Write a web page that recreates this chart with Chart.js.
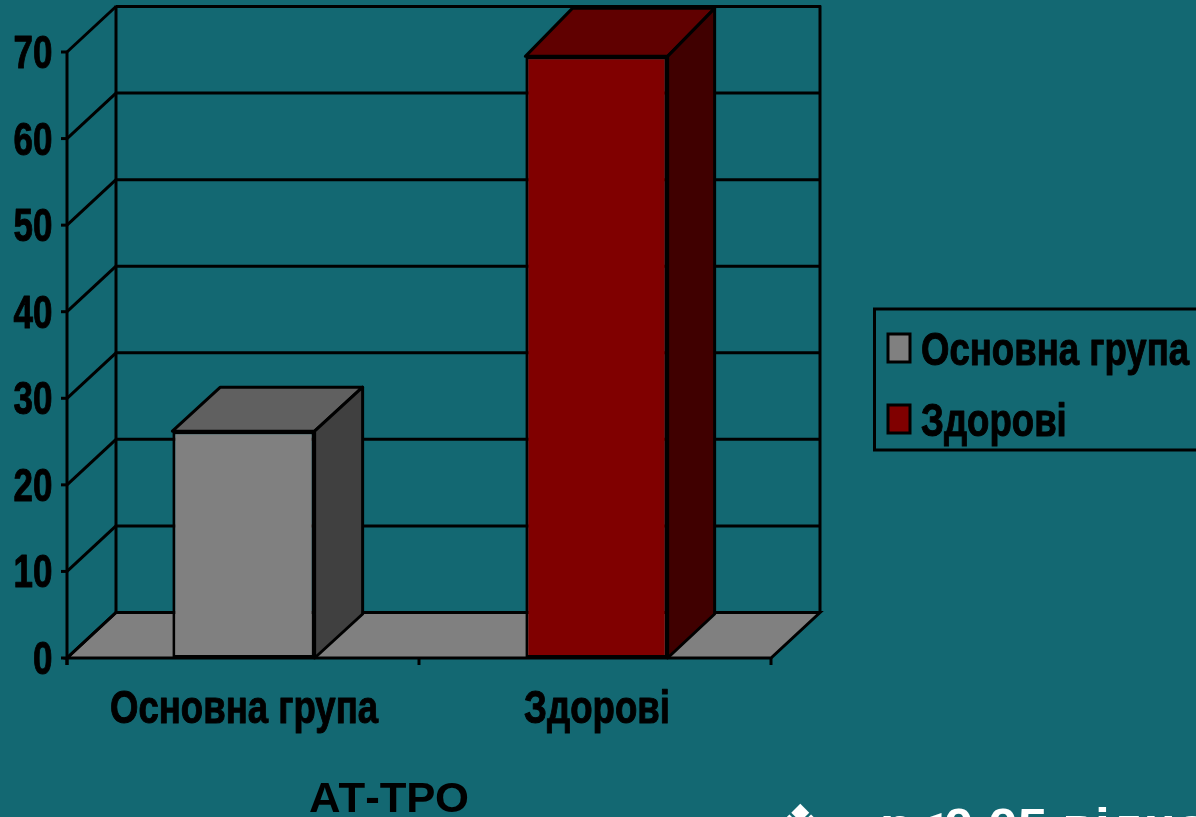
<!DOCTYPE html>
<html><head><meta charset="utf-8">
<style>html,body{margin:0;padding:0;background:#136872;overflow:hidden}canvas{display:block}</style>
<script src="https://cdn.jsdelivr.net/npm/chart.js@4"></script>
</head><body><canvas id="c" width="1196" height="817"></canvas>
<script>
const categories = ["Основна група", "Здорові"];
const values = [26.2, 69.5];
const yTickValues = [0, 10, 20, 30, 40, 50, 60, 70];
const axisTitle = "АТ-ТРО";
const noteText = "р<0,05 відносно";
const noteBullet = "❖";

const frontColors = ["#808080", "#800000"];
const topColors = ["#606060", "#600000"];
const sideColors = ["#404040", "#400000"];
const FONT = '"Liberation Sans", Arial, sans-serif';
const BIG = 'bold 46px ' + FONT;
const WALL = {dx: 49, dy: -45.5};
const BAR = [{dx: 48, dy: -44}, {dx: 47, dy: -48}];
const LW = 3;

function squeezed(ctx, text, x, y, sx, align, font, color, heavy) {
  ctx.save();
  ctx.font = font; ctx.fillStyle = color; ctx.textAlign = align; ctx.textBaseline = 'alphabetic';
  ctx.translate(x, y); ctx.scale(sx, 1);
  ctx.fillText(text, 0, 0);
  if (heavy) { ctx.strokeStyle = color; ctx.lineWidth = heavy; ctx.lineJoin = 'round'; ctx.strokeText(text, 0, 0); }
  ctx.restore();
}
function poly(ctx, pts, fill) {
  ctx.beginPath();
  pts.forEach((p, i) => i ? ctx.lineTo(p[0], p[1]) : ctx.moveTo(p[0], p[1]));
  ctx.closePath();
  if (fill) { ctx.fillStyle = fill; ctx.fill(); }
  ctx.stroke();
}
function seg(ctx, a, b, c, d) { ctx.beginPath(); ctx.moveTo(a, b); ctx.lineTo(c, d); ctx.stroke(); }

const scene3d = {
  id: 'scene3d',
  beforeDatasetsDraw(chart) {
    const {ctx, chartArea: A, scales: {y}} = chart;
    const L = A.left, R = A.right - 2, B = y.getPixelForValue(0), T = y.getPixelForValue(70);
    ctx.save();
    ctx.strokeStyle = '#000'; ctx.lineWidth = LW; ctx.lineCap = 'butt';
    poly(ctx, [[L, B], [R, B], [R + WALL.dx, B + WALL.dy], [L + WALL.dx, B + WALL.dy]], '#808080');
    yTickValues.forEach(v => {
      const p = y.getPixelForValue(v);
      if (v > 0) seg(ctx, L + WALL.dx, p + WALL.dy, R + WALL.dx + 1, p + WALL.dy);
      seg(ctx, L, p, L + WALL.dx, p + WALL.dy);
      seg(ctx, L - 6, p, L, p);
    });
    seg(ctx, L, T, L, B + 7);
    seg(ctx, L + WALL.dx, T + WALL.dy - 1, L + WALL.dx, B + WALL.dy);
    seg(ctx, R + WALL.dx, T + WALL.dy - 1, R + WALL.dx, B + WALL.dy);
    [0, 1, 2].forEach(i => { const x = L + (R - L) * i / 2; seg(ctx, x, B, x, B + 7); });
    ctx.restore();
  },
  afterDatasetsDraw(chart) {
    const {ctx, scales: {x, y}} = chart;
    const bars = chart.getDatasetMeta(0).data;
    ctx.save();
    ctx.strokeStyle = '#000'; ctx.lineWidth = LW; ctx.lineJoin = 'round';
    bars.forEach((b, i) => {
      const hw = b.width / 2, l = b.x - hw, r = b.x + hw, t = b.y, bt = y.getPixelForValue(0);
      const d = BAR[i];
      poly(ctx, [[l, t], [r, t], [r + d.dx, t + d.dy], [l + d.dx, t + d.dy]], topColors[i]);
      poly(ctx, [[r, t], [r + d.dx, t + d.dy], [r + d.dx, bt - 44], [r, bt]], sideColors[i]);
    });
    ctx.restore();

    yTickValues.forEach(v => {
      squeezed(ctx, String(v), 52.5, y.getPixelForValue(v) + 16, 0.76, 'right', BIG, '#000', 1);
    });
    categories.forEach((c, i) => {
      squeezed(ctx, c, x.getPixelForValue(i) + 0.5, 723, 0.795, 'center', BIG, '#000', 1);
    });
    squeezed(ctx, axisTitle, 389, 812, 1.04, 'center', 'bold 42px ' + FONT, '#000');

    // legend
    ctx.save();
    ctx.strokeStyle = '#000'; ctx.lineWidth = LW;
    ctx.strokeRect(874.5, 309, 340, 141);
    const rowY = [334, 405], baseY = [365, 436];
    categories.forEach((c, i) => {
      ctx.fillStyle = frontColors[i];
      ctx.fillRect(888, rowY[i], 22, 28);
      ctx.strokeRect(888, rowY[i], 22, 28);
      squeezed(ctx, c, 921, baseY[i], 0.795, 'left', BIG, '#000', 1);
    });
    ctx.restore();

    // note, cut by the page edge as in the source slide
    squeezed(ctx, noteText, 880, 842, 1.11, 'left', 'bold 48px ' + FONT, '#fff');
    squeezed(ctx, noteBullet, 776, 843, 1.0, 'left', '54px "DejaVu Sans"', '#fff');
  }
};

new Chart(document.getElementById('c'), {
  type: 'bar',
  data: {
    labels: categories,
    datasets: [{
      label: 'АТ-ТРО',
      data: values,
      backgroundColor: frontColors,
      borderColor: '#000',
      borderWidth: 3,
      borderSkipped: false,
      barPercentage: 0.403,
      categoryPercentage: 1
    }]
  },
  options: {
    responsive: false,
    animation: false,
    devicePixelRatio: 1,
    layout: {padding: {left: 67, right: 423, top: 52, bottom: 159}},
    plugins: {legend: {display: false}, title: {display: false}, tooltip: {enabled: false}},
    scales: {
      x: {display: false},
      y: {display: false, min: 0, max: 70, ticks: {stepSize: 10}}
    }
  },
  plugins: [scene3d]
});
</script></body></html>
